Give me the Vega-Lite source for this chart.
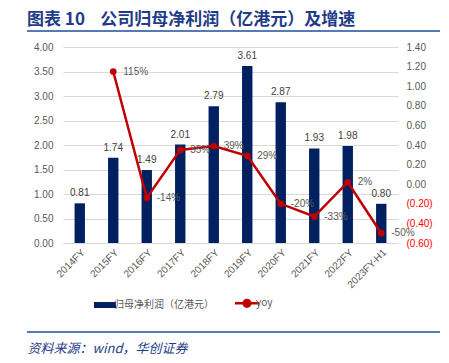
{
  "$schema": "https://vega.github.io/schema/vega-lite/v6.json",
  "width": 335,
  "height": 196,
  "autosize": {"type": "none"},
  "padding": {"left": 63, "top": 47, "right": 51, "bottom": 120},
  "config": {
    "view": {"stroke": null},
    "locale": {"number": {"decimal": ".", "thousands": ",", "grouping": [3], "currency": ["", ""], "minus": "-"}},
    "axis": {"labelFont": "Liberation Sans", "labelFontSize": 10, "labelColor": "#595959", "ticks": false, "domain": false, "labelOverlap": false}
  },
  "title": {
    "text": "图表 10\u00a0\u00a0\u00a0\u00a0公司归母净利润（亿港元）及增速",
    "anchor": "start",
    "frame": "group",
    "dx": -36,
    "dy": 19,
    "offset": 7,
    "baseline": "alphabetic",
    "font": "Noto Sans CJK SC",
    "fontSize": 17,
    "fontWeight": "bold",
    "color": "#1F3C88"
  },
  "data": {
    "values": [
      {"year": "2014FY", "profit": 0.81, "yoy": null},
      {"year": "2015FY", "profit": 1.74, "yoy": 1.15},
      {"year": "2016FY", "profit": 1.49, "yoy": -0.14},
      {"year": "2017FY", "profit": 2.01, "yoy": 0.35},
      {"year": "2018FY", "profit": 2.79, "yoy": 0.39},
      {"year": "2019FY", "profit": 3.61, "yoy": 0.29},
      {"year": "2020FY", "profit": 2.87, "yoy": -0.20},
      {"year": "2021FY", "profit": 1.93, "yoy": -0.33},
      {"year": "2022FY", "profit": 1.98, "yoy": 0.02},
      {"year": "2023FY-H1", "profit": 0.80, "yoy": -0.50}
    ]
  },
  "encoding": {
    "x": {
      "field": "year",
      "type": "nominal",
      "sort": null,
      "scale": {"paddingInner": 0.69, "paddingOuter": 0.345},
      "axis": {
        "labelAngle": -45,
        "labelPadding": 4,
        "domain": true,
        "domainColor": "#D9D9D9",
        "title": "资料来源：wind，华创证券",
        "titleX": -36,
        "titleY": 109,
        "titleAlign": "left",
        "titleAnchor": null,
        "titleBaseline": "alphabetic",
        "titleFont": "Noto Sans CJK SC",
        "titleFontSize": 13,
        "titleFontStyle": "italic",
        "titleFontWeight": "normal",
        "titleColor": "#1F3C88"
      }
    }
  },
  "layer": [
    {
      "layer": [
        {
          "mark": {"type": "bar"},
          "encoding": {
            "y": {
              "field": "profit",
              "type": "quantitative",
              "scale": {"domain": [0, 4], "nice": false},
              "axis": {"orient": "left", "title": null, "tickCount": 9, "format": ".2f", "grid": true, "gridColor": "#D9D9D9", "labelPadding": 10, "labelOverlap": false, "labelBound": false}
            },
            "color": {
              "datum": "归母净利润（亿港元）",
              "type": "nominal",
              "scale": {"domain": ["归母净利润（亿港元）", "yoy"], "range": ["#002060", "#C00000"]},
              "legend": {
                "orient": "none",
                "legendX": 37,
                "legendY": 251,
                "direction": "horizontal",
                "title": null,
                "labelFont": "Noto Sans CJK SC",
                "labelFontSize": 10,
                "labelColor": "#595959",
                "labelOffset": 4,
                "columnPadding": 16,
                "symbolSize": 576,
                "encode": {
                  "symbols": {
                    "update": {
                      "shape": {"signal": "datum.value == 'yoy' ? 'M-1,0H1M-0.28,0A0.28,0.28 0 1 1 0.28,0A0.28,0.28 0 1 1 -0.28,0Z' : 'M-0.92,-0.25H0.92V0.25H-0.92Z'"},
                      "fill": {"signal": "datum.value == 'yoy' ? '#C00000' : '#002060'"},
                      "stroke": {"signal": "datum.value == 'yoy' ? '#C00000' : '#002060'"},
                      "strokeWidth": {"signal": "datum.value == 'yoy' ? 2.5 : 0"},
                      "fillOpacity": {"value": 1},
                      "opacity": {"value": 1}
                    }
                  }
                }
              }
            }
          }
        },
        {
          "mark": {"type": "text", "baseline": "bottom", "dy": -5, "font": "Liberation Sans", "fontSize": 10, "color": "#404040"},
          "encoding": {
            "y": {"field": "profit", "type": "quantitative"},
            "text": {"field": "profit", "type": "quantitative", "format": ".2f"}
          }
        },
        {
          "data": {"values": [{"line": "title"}]},
          "mark": {"type": "rule", "color": "#1F4E9C", "strokeWidth": 1.5, "clip": false},
          "encoding": {
            "x": {"value": -36},
            "x2": {"value": 377},
            "y": {"value": -16}
          }
        },
        {
          "data": {"values": [{"line": "source"}]},
          "mark": {"type": "rule", "color": "#1F4E9C", "strokeWidth": 1.5, "clip": false},
          "encoding": {
            "x": {"value": -36},
            "x2": {"value": 377},
            "y": {"value": 285}
          }
        }
      ]
    },
    {
      "transform": [{"filter": "datum.yoy != null"}],
      "layer": [
        {
          "mark": {"type": "line", "strokeWidth": 2.5},
          "encoding": {
            "y": {
              "field": "yoy",
              "type": "quantitative",
              "scale": {"domain": [-0.6, 1.4], "nice": false},
              "axis": {
                "orient": "right",
                "title": null,
                "grid": false,
                "tickCount": 10,
                "labelExpr": "datum.value < -0.001 ? '(' + format(-datum.value, '.2f') + ')' : format(datum.value, '.2f')",
                "labelColor": {"condition": {"test": "datum.value < -0.001", "value": "#FF0000"}, "value": "#595959"},
                "labelPadding": 8,
                "labelOverlap": false,
                "labelBound": false
              }
            },
            "color": {"datum": "yoy", "type": "nominal"}
          }
        },
        {
          "mark": {"type": "point", "filled": true, "size": 45, "opacity": 1},
          "encoding": {
            "y": {"field": "yoy", "type": "quantitative"},
            "color": {"datum": "yoy", "type": "nominal"}
          }
        },
        {
          "mark": {"type": "text", "align": "left", "baseline": "middle", "dx": 10, "font": "Liberation Sans", "fontSize": 10, "color": "#595959"},
          "encoding": {
            "y": {"field": "yoy", "type": "quantitative"},
            "text": {"field": "yoy", "type": "quantitative", "format": ".0%"}
          }
        }
      ]
    }
  ],
  "resolve": {"scale": {"y": "independent"}}
}
